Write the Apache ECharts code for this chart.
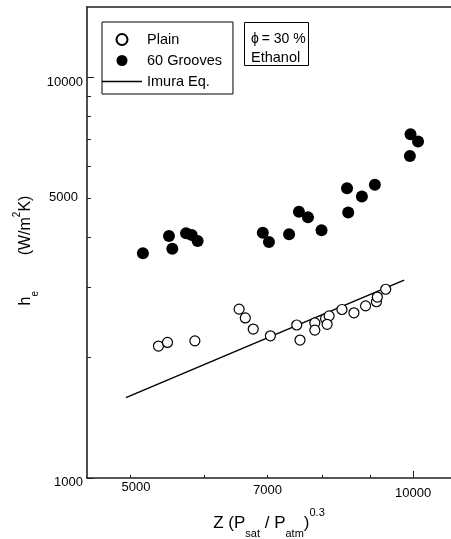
<!DOCTYPE html>
<html>
<head>
<meta charset="utf-8">
<script src="https://cdn.jsdelivr.net/npm/echarts@6/dist/echarts.min.js"></script>
<style>
html,body{margin:0;padding:0;background:#fff;}
#chart{width:451px;height:539px;}
</style>
</head>
<body>
<div id="chart"></div>
<script>
// ---- data ----
const plainZ = [5360, 5480, 5860, 6530, 6630, 6760, 7050, 7520, 7580, 7860, 7860, 8070, 8140, 8100, 8400, 8650, 8900, 9140, 9160, 9350];
const plainH = [2135, 2180, 2200, 2640, 2510, 2355, 2265, 2410, 2210, 2440, 2340, 2500, 2540, 2420, 2635, 2585, 2690, 2755, 2830, 2960];

const groovesZ = [5160, 5500, 5545, 5735, 5815, 5900, 6920, 7025, 7380, 7560, 7730, 7990, 8505, 8530, 8820, 9105, 9935, 10120, 9920];
const groovesH = [3640, 4020, 3735, 4085, 4045, 3905, 4095, 3885, 4060, 4625, 4475, 4155, 5290, 4600, 5045, 5400, 7220, 6920, 6370];

const imuraZ = [4950, 9780];
const imuraH = [1587, 3120];

const xTicksMinor = [5000, 6000, 7000, 8000, 9000];
const xTicksMajor = [10000];
const xLabels = [5000, 7000, 10000];
const yTicksMinor = [2000, 3000, 4000, 5000, 6000, 7000, 8000, 9000];
const yTicksMajor = [1000, 10000];
const yLabels = [1000, 5000, 10000];

const xMin = 4500, xMax = 10970, yMin = 1000, yMax = 15000;

const FONT = '"Liberation Sans", Arial, sans-serif';
const zip = (a, b) => a.map((v, i) => [v, b[i]]);

const chart = echarts.init(document.getElementById('chart'), null, {renderer: 'canvas'});

const axisColor = '#222';
const baseX = {type: 'log', min: xMin, max: xMax, splitLine: {show: false}};
const baseY = {type: 'log', min: yMin, max: yMax, splitLine: {show: false}};
const lbl = {fontSize: 13, fontFamily: FONT, color: '#000'};

const option = {
  backgroundColor: '#fff',
  animation: false,
  grid: {left: 87, right: 0, top: 7, bottom: 61, containLabel: false, outerBoundsMode: 'none'},
  xAxis: [
    Object.assign({}, baseX, {
      position: 'bottom',
      axisLine: {show: true, lineStyle: {color: axisColor, width: 1.6}},
      axisTick: {show: true, inside: true, length: 3, customValues: xTicksMinor, lineStyle: {color: axisColor, width: 1}},
      axisLabel: {
        show: true, customValues: xLabels, margin: 3, color: '#000', fontFamily: FONT, fontSize: 13,
        formatter: v => v === 5000 ? '{a|5000}' : (v === 7000 ? '{b|7000}' : '{c|' + v + '}'),
        rich: {
          a: Object.assign({}, lbl, {padding: [0, 0, 0, 12]}),
          b: Object.assign({}, lbl, {padding: [3, 0, 0, 0]}),
          c: Object.assign({}, lbl, {padding: [6, 0, 0, 0]})
        }
      },
      name: '{n|Z (P}{s|sat}{n| / P}{s|atm}{n|)}{p|0.3}',
      nameLocation: 'middle',
      nameGap: 29,
      nameTextStyle: {
        color: '#000', fontFamily: FONT, fontSize: 17,
        rich: {
          n: {fontSize: 17, fontFamily: FONT, color: '#000', lineHeight: 32, verticalAlign: 'middle'},
          s: {fontSize: 11, fontFamily: FONT, color: '#000', lineHeight: 12, verticalAlign: 'bottom'},
          p: {fontSize: 11, fontFamily: FONT, color: '#000', lineHeight: 12, verticalAlign: 'top'}
        }
      }
    }),
    Object.assign({}, baseX, {
      position: 'bottom',
      axisLine: {show: false},
      axisTick: {show: true, inside: true, length: 7, customValues: xTicksMajor, lineStyle: {color: axisColor, width: 1}},
      axisLabel: {show: false}
    }),
    Object.assign({}, baseX, {
      position: 'top',
      axisLine: {show: true, lineStyle: {color: axisColor, width: 1.6}},
      axisTick: {show: false},
      axisLabel: {show: false}
    })
  ],
  yAxis: [
    Object.assign({}, baseY, {
      position: 'left',
      axisLine: {show: true, lineStyle: {color: axisColor, width: 1.6}},
      axisTick: {show: true, inside: true, length: 4, customValues: yTicksMinor, lineStyle: {color: axisColor, width: 1}},
      axisLabel: {
        show: true, customValues: yLabels, margin: 4, color: '#000', fontFamily: FONT, fontSize: 13,
        formatter: v => v === 10000 ? '{a|10000}' : (v === 5000 ? '{b|5000}' : '{c|1000}'),
        rich: {
          a: Object.assign({}, lbl, {lineHeight: 22, verticalAlign: 'bottom'}),
          b: Object.assign({}, lbl, {lineHeight: 14, verticalAlign: 'top', padding: [0, 5, 0, 0]}),
          c: Object.assign({}, lbl, {lineHeight: 21, verticalAlign: 'bottom'})
        }
      },
      name: '{n|h}{s|e}{n|        (W/m}{p|2}{n|K)}{g| }',
      nameLocation: 'middle',
      nameRotate: 90,
      nameGap: 47,
      nameMoveOverlap: false,
      nameTextStyle: {
        color: '#000', fontFamily: FONT, fontSize: 16,
        rich: {
          n: {fontSize: 16, fontFamily: FONT, color: '#000', lineHeight: 28, verticalAlign: 'middle'},
          s: {fontSize: 10, fontFamily: FONT, color: '#000', lineHeight: 12, verticalAlign: 'bottom'},
          p: {fontSize: 10, fontFamily: FONT, color: '#000', lineHeight: 11, verticalAlign: 'top'},
          g: {fontSize: 16, fontFamily: FONT, color: '#000', width: 16}
        }
      }
    }),
    Object.assign({}, baseY, {
      position: 'left',
      axisLine: {show: false},
      axisTick: {show: true, inside: true, length: 7, customValues: yTicksMajor, lineStyle: {color: axisColor, width: 1}},
      axisLabel: {show: false}
    })
  ],
  legend: {
    left: 102, top: 22, orient: 'vertical',
    itemWidth: 40, itemHeight: 11, itemGap: 6,
    borderColor: '#000', borderWidth: 1, padding: [10, 11, 5, 0],
    textStyle: {fontSize: 14.5, color: '#000', fontFamily: FONT},
    data: [
      {name: 'Plain'},
      {name: '60 Grooves'},
      {name: 'Imura Eq.', icon: 'path://M0,0H40V1.5H0Z', itemStyle: {color: '#000'}}
    ]
  },
  graphic: [{
    type: 'group', left: 244, top: 22,
    children: [
      {type: 'rect', shape: {x: 0, y: 0, width: 64, height: 43}, style: {fill: '#fff', stroke: '#000', lineWidth: 1}},
      {type: 'text', x: 6.5, y: 17, style: {text: '\u03D5\u2009= 30 %', font: '14px ' + FONT, fill: '#000', verticalAlign: 'middle'}},
      {type: 'text', x: 6.5, y: 35, style: {text: 'Ethanol', font: '14.5px ' + FONT, fill: '#000', verticalAlign: 'middle'}}
    ]
  }],
  series: [
    {
      name: 'Imura Eq.', type: 'line', xAxisIndex: 0, yAxisIndex: 0,
      data: zip(imuraZ, imuraH), symbol: 'none',
      lineStyle: {color: '#000', width: 1.5}, itemStyle: {color: '#000'}, z: 2
    },
    {
      name: 'Plain', type: 'scatter', xAxisIndex: 0, yAxisIndex: 0,
      data: zip(plainZ, plainH), symbol: 'circle', symbolSize: 10,
      itemStyle: {color: '#fff', borderColor: '#000', borderWidth: 1.2, opacity: 1}, z: 3
    },
    {
      name: '60 Grooves', type: 'scatter', xAxisIndex: 0, yAxisIndex: 0,
      data: zip(groovesZ, groovesH), symbol: 'circle', symbolSize: 12,
      itemStyle: {color: '#000', opacity: 1}, z: 3
    }
  ]
};
chart.setOption(option);
</script>
</body>
</html>
